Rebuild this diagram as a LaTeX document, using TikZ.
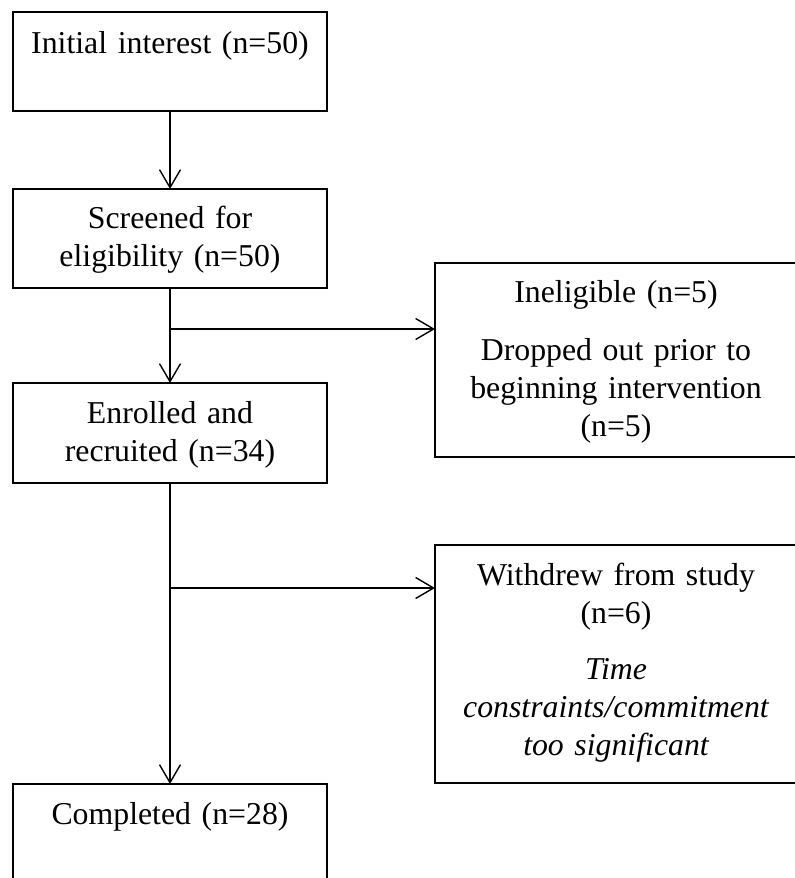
\documentclass[tikz,border=0pt]{standalone}
\usepackage{fontspec}
\setmainfont{Liberation Serif}
\usetikzlibrary{arrows.meta}
\begin{document}
\begin{tikzpicture}[x=1pt,y=-1pt,
    box/.style={draw,line width=1.2pt,anchor=north,inner sep=0pt,outer sep=0pt,
      align=center,font=\fontsize{31.8}{38}\selectfont},
    leftbox/.style={box,text width=314pt},
    rightbox/.style={box,text width=362pt},
    flow/.style={line width=1.4pt,-{Straight Barb[length=18pt,width=21pt,line width=1.4pt]}}]
      \clip (0,0) rectangle (795,878);
      \node[leftbox,text height=41pt,text depth=58pt] (interest) at (170,12) {Initial interest (n=50)};
      \node[leftbox,text height=39pt,text depth=60pt] (screened) at (170,189) {Screened for\\ eligibility (n=50)};
      \node[leftbox,text height=40pt,text depth=60pt] (enrolled) at (170,383) {Enrolled and\\ recruited (n=34)};
      \node[leftbox,text height=40pt,text depth=80pt] (completed) at (170,784) {Completed (n=28)};
      \node[rightbox,text height=39pt,text depth=155pt] (ineligible) at (616,263) {Ineligible (n=5)\\[20pt] Dropped out prior to\\ beginning intervention\\ (n=5)};
      \node[rightbox,text height=40pt,text depth=198pt] (withdrew) at (616,545) {Withdrew from study\\ (n=6)\\[18pt] {\itshape Time}\\ {\itshape constraints/commitment}\\ {\itshape too significant}};
      \coordinate (split1) at (170,329);
      \coordinate (split2) at (170,588);
      \draw[flow] (interest) -- (screened);
      \draw[flow] (screened) -- (enrolled);
      \draw[flow] (enrolled) -- (completed);
      \draw[flow] (split1) -- (split1 -| ineligible.west);
      \draw[flow] (split2) -- (split2 -| withdrew.west);
    \end{tikzpicture}
\end{document}
